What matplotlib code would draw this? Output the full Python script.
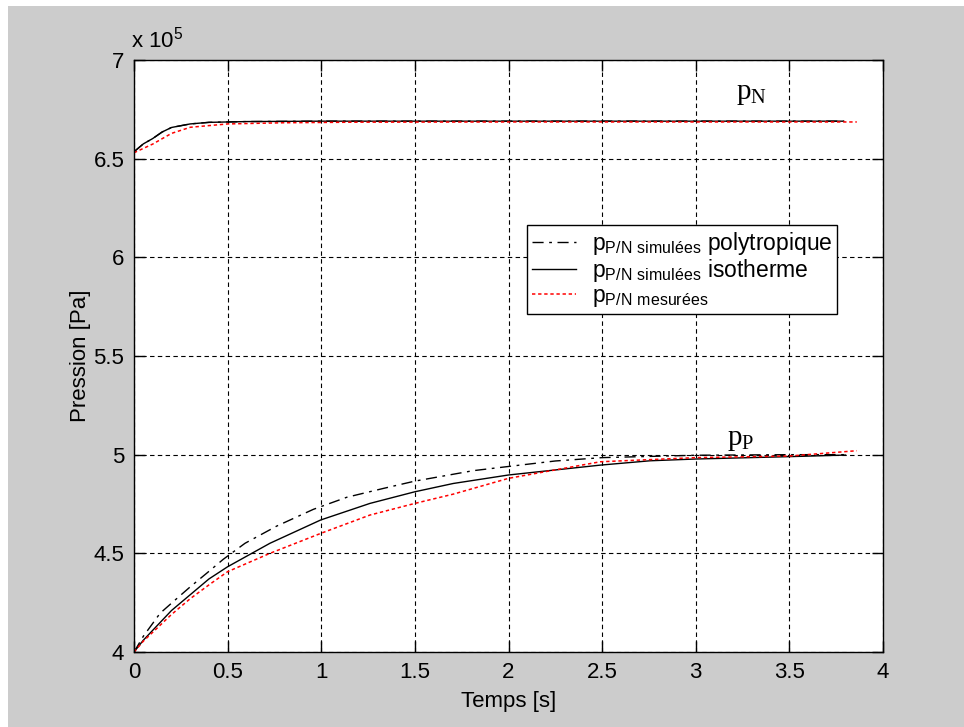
import matplotlib
matplotlib.use('Agg')
import matplotlib.pyplot as plt
from matplotlib.patches import Rectangle

plt.rcParams['font.family'] = ['Liberation Sans', 'DejaVu Sans']
plt.rcParams['mathtext.fontset'] = 'custom'
plt.rcParams['mathtext.rm'] = 'Liberation Sans'

# Pression en 10^5 Pa
# p_N (accumulateur N)
t_pN_sim = [0.0, 0.05, 0.1, 0.15, 0.2, 0.3, 0.4, 0.6, 1.0, 2.0, 3.0, 3.79]
pN_iso = [6.535, 6.575, 6.602, 6.635, 6.658, 6.676, 6.684, 6.688, 6.69, 6.69, 6.69, 6.69]
pN_poly = [6.535, 6.575, 6.602, 6.635, 6.658, 6.676, 6.684, 6.688, 6.69, 6.69, 6.69, 6.69]
t_pN_mes = [0.0, 0.1, 0.2, 0.3, 0.5, 0.8, 1.2, 2.0, 3.0, 3.86]
pN_mes = [6.53, 6.574, 6.628, 6.659, 6.676, 6.682, 6.685, 6.686, 6.686, 6.686]

# p_P (accumulateur P)
t_pP_poly = [0.0, 0.05, 0.1, 0.139, 0.219, 0.3, 0.388, 0.477, 0.593, 0.762, 0.958,
             1.136, 1.332, 1.5, 1.812, 2.061, 2.25, 2.5, 3.0, 3.5, 3.8]
pP_poly = [4.0, 4.08, 4.145, 4.196, 4.263, 4.33, 4.399, 4.47, 4.551, 4.638, 4.723,
           4.784, 4.829, 4.866, 4.919, 4.947, 4.968, 4.985, 4.997, 5.0, 5.0]
t_pP_iso = [0.0, 0.05, 0.1, 0.2, 0.3, 0.4, 0.5, 0.726, 0.997, 1.26, 1.5, 1.705,
            2.0, 2.49, 2.756, 3.0, 3.5, 3.8]
pP_iso = [4.0, 4.06, 4.11, 4.21, 4.29, 4.37, 4.432, 4.551, 4.669, 4.753, 4.812, 4.854,
          4.897, 4.947, 4.969, 4.978, 4.99, 4.998]
t_pP_mes = [0.0, 0.05, 0.1, 0.2, 0.3, 0.4, 0.5, 0.726, 0.997, 1.26, 1.5, 1.705,
            2.0, 2.49, 3.0, 3.5, 3.86]
pP_mes = [4.0, 4.055, 4.10, 4.19, 4.27, 4.34, 4.407, 4.50, 4.601, 4.694, 4.753, 4.80,
          4.88, 4.964, 4.985, 4.993, 5.02]

x_ticks = [0, 0.5, 1, 1.5, 2, 2.5, 3, 3.5, 4]
y_ticks = [4, 4.5, 5, 5.5, 6, 6.5, 7]

fig = plt.figure(figsize=(9.64, 7.27), dpi=100)
fig.patch.set_facecolor('white')
fig.add_artist(Rectangle((8 / 964, 0), 1, 1 - 6 / 727, transform=fig.transFigure,
                         facecolor='#cccccc', edgecolor='none', zorder=-1))
ax = fig.add_axes([134 / 964, 1 - 652 / 727, 749 / 964, 592 / 727])
ax.set_facecolor('white')

dashdot = (0, (8, 4, 2, 4))
dotted = (0, (2.2, 1.8))

# courbes p_N
ax.plot(t_pN_sim, pN_poly, color='black', lw=1.0, ls=dashdot)
ax.plot(t_pN_sim, pN_iso, color='black', lw=1.0)
ax.plot(t_pN_mes, pN_mes, color='red', lw=1.1, ls=dotted)

# courbes p_P
l1, = ax.plot(t_pP_poly, pP_poly, color='black', lw=1.0, ls=dashdot)
l2, = ax.plot(t_pP_iso, pP_iso, color='black', lw=1.0)
l3, = ax.plot(t_pP_mes, pP_mes, color='red', lw=1.1, ls=dotted)

ax.set_xlim(0, 4)
ax.set_ylim(4, 7)
ax.set_xticks(x_ticks)
ax.set_yticks(y_ticks)
ax.set_xticklabels(['%g' % v for v in x_ticks])
ax.set_yticklabels(['%g' % v for v in y_ticks])
ax.tick_params(direction='in', length=8, width=1, labelsize=16, pad=7,
               top=True, right=True, colors='black')
ax.grid(True, color='black', lw=0.8, ls=(0, (4, 3)))
ax.set_axisbelow(True)
for s in ax.spines.values():
    s.set_linewidth(1.0)
    s.set_color('black')

ax.set_xlabel('Temps [s]', fontsize=16, labelpad=6)
ax.set_ylabel('Pression [Pa]', fontsize=16, labelpad=2)
ax.text(-0.004, 1.012, r'x 10$^{\mathregular{5}}$', transform=ax.transAxes,
        fontsize=16, ha='left', va='bottom')

ax.text(3.215, 6.80, r'$\mathregular{p_N}$', fontsize=21, family='Liberation Serif')
ax.text(3.165, 5.05, r'$\mathregular{p_P}$', fontsize=21, family='Liberation Serif')

labels = [r'$\mathregular{p_{P/N\ simulées}}$ polytropique',
          r'$\mathregular{p_{P/N\ simulées}}$ isotherme',
          r'$\mathregular{p_{P/N\ mesurées}}$']
leg = ax.legend([l1, l2, l3], labels, loc='upper left',
                bbox_to_anchor=((527 - 134) / 749, (652 - 225) / 592),
                borderaxespad=0, fontsize=16.5, handlelength=1.9, handletextpad=0.7,
                labelspacing=0.0, borderpad=0.22, fancybox=False, framealpha=1,
                edgecolor='black')
leg.get_frame().set_linewidth(1.0)

fig.savefig('out.png', dpi=100)
